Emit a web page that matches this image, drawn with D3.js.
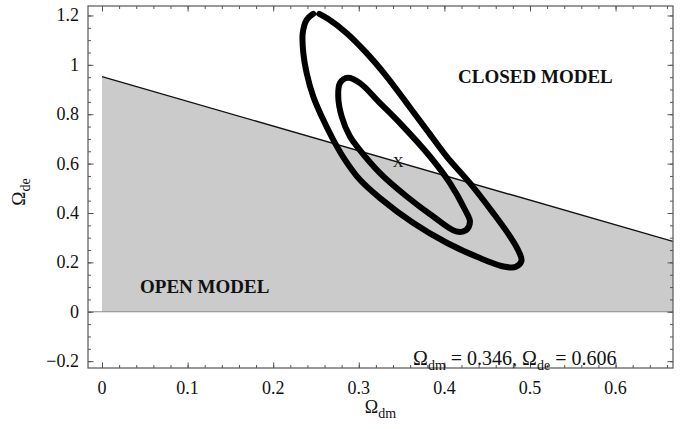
<!DOCTYPE html>
<html>
<head>
<meta charset="utf-8">
<script src="https://cdn.jsdelivr.net/npm/d3@7"></script>
<style>
  html, body { margin: 0; padding: 0; background: #fff; }
  svg { display: block; }
  text { font-family: "Liberation Serif", "Times New Roman", serif; fill: #111; }
</style>
</head>
<body>
<svg id="chart" width="686" height="429"></svg>
<script>
// ---- data -------------------------------------------------------------
const xTicks = [0, 0.1, 0.2, 0.3, 0.4, 0.5, 0.6];
const xTickLabels = ["0", "0.1", "0.2", "0.3", "0.4", "0.5", "0.6"];
const yTicks = [-0.2, 0, 0.2, 0.4, 0.6, 0.8, 1, 1.2];
const yTickLabels = ["\u22120.2", "0", "0.2", "0.4", "0.6", "0.8", "1", "1.2"];

// flat-universe boundary  Ω_dm + Ω_de ≈ 0.952
const boundaryDm = [0, 0.667];
const boundaryDe = [0.952, 0.285];

// best-fit point
const bestDm = 0.346;
const bestDe = 0.606;

// outer confidence contour (open at the top)
const outerDm = [0.2539, 0.2640, 0.2859, 0.3092, 0.3326, 0.3560, 0.3793, 0.4027, 0.4299, 0.4571,
                 0.4778, 0.4871, 0.4901, 0.4836, 0.4708, 0.4416, 0.4027, 0.3633, 0.3248, 0.3014,
                 0.2839, 0.2702, 0.2567, 0.2468, 0.2391, 0.2352, 0.2345, 0.2391, 0.2468];
const outerDe = [1.2065, 1.1862, 1.1283, 1.0474, 0.9526, 0.8449, 0.7368, 0.6287, 0.5211, 0.3996,
                 0.2996, 0.2429, 0.2065, 0.1822, 0.1822, 0.2174, 0.2794, 0.3603, 0.4603, 0.5344,
                 0.6154, 0.6964, 0.7907, 0.8717, 0.9664, 1.0474, 1.1283, 1.1822, 1.2065];

// inner confidence contour (closed)
const innerDm = [0.2874, 0.3014, 0.3248, 0.3481, 0.3832, 0.4065, 0.4241, 0.4299, 0.4252,
                 0.4136, 0.3870, 0.3560, 0.3248, 0.2994, 0.2897, 0.2800, 0.2760, 0.2780];
const innerDe = [0.9474, 0.9259, 0.8449, 0.7640, 0.6287, 0.5211, 0.4130, 0.3644, 0.3300,
                 0.3259, 0.3858, 0.4668, 0.5615, 0.6628, 0.7097, 0.7907, 0.8717, 0.9259];

// ---- layout -----------------------------------------------------------
const svg = d3.select("#chart");
const plot = { left: 88, right: 673, top: 6, bottom: 368 };

const x = d3.scaleLinear().domain([-0.01636, 0.6671]).range([plot.left, plot.right]);
const y = d3.scaleLinear().domain([-0.2277, 1.2383]).range([plot.bottom, plot.top]);

const clipId = "plotClip";
svg.append("clipPath").attr("id", clipId)
  .append("rect")
  .attr("x", plot.left).attr("y", plot.top)
  .attr("width", plot.right - plot.left).attr("height", plot.bottom - plot.top);

const g = svg.append("g").attr("clip-path", `url(#${clipId})`);

// open-model region (below the flat boundary, above zero)
const region = [
  [boundaryDm[0], 0],
  [boundaryDm[0], boundaryDe[0]],
  [boundaryDm[1], boundaryDe[1]],
  [boundaryDm[1], 0]
];
g.append("path")
  .attr("d", d3.line().x(d => x(d[0])).y(d => y(d[1]))(region) + "Z")
  .attr("fill", "#cbcbcb");

// zero line
g.append("line")
  .attr("x1", plot.left).attr("x2", plot.right)
  .attr("y1", y(0)).attr("y2", y(0))
  .attr("stroke", "#8a8a8a").attr("stroke-width", 1.2);

// boundary line
g.append("line")
  .attr("x1", x(boundaryDm[0])).attr("y1", y(boundaryDe[0]))
  .attr("x2", x(boundaryDm[1])).attr("y2", y(boundaryDe[1]))
  .attr("stroke", "#111").attr("stroke-width", 1.4);

// contours
const outerPts = outerDm.map((d, i) => [d, outerDe[i]]);
const innerPts = innerDm.map((d, i) => [d, innerDe[i]]);

g.append("path")
  .attr("d", d3.line().x(d => x(d[0])).y(d => y(d[1])).curve(d3.curveCatmullRom.alpha(0.5))(outerPts))
  .attr("fill", "none").attr("stroke", "#000").attr("stroke-width", 6)
  .attr("stroke-linecap", "round").attr("stroke-linejoin", "round");

g.append("path")
  .attr("d", d3.line().x(d => x(d[0])).y(d => y(d[1])).curve(d3.curveCatmullRomClosed.alpha(0.5))(innerPts))
  .attr("fill", "none").attr("stroke", "#000").attr("stroke-width", 6)
  .attr("stroke-linejoin", "round");

// best-fit marker
svg.append("text")
  .attr("x", x(bestDm)).attr("y", y(bestDe))
  .attr("text-anchor", "middle").attr("dominant-baseline", "central")
  .style("font-size", "15px")
  .text("X");

// region labels
svg.append("text")
  .attr("x", x(0.0444)).attr("y", y(0.075))
  .style("font-size", "19px").style("font-weight", "bold")
  .text("OPEN MODEL");
svg.append("text")
  .attr("x", x(0.416)).attr("y", y(0.926))
  .style("font-size", "19px").style("font-weight", "bold")
  .text("CLOSED MODEL");

// ---- frame and ticks ----------------------------------------------------
const frameColor = "#555";
const minorX = d3.range(0, 0.6671, 0.02).map(v => +v.toFixed(2));
const minorY = d3.range(-0.2, 1.2381, 0.05).map(v => +v.toFixed(2));

function tickAxis(axisFn, scale, values, size, transform) {
  const a = svg.append("g").attr("transform", transform)
    .call(axisFn(scale).tickValues(values).tickSize(size).tickFormat(""));
  a.select(".domain").remove();
  a.selectAll("line").attr("stroke", frameColor).attr("stroke-width", 1);
  return a;
}

// bottom / top (inward)
tickAxis(d3.axisBottom, x, minorX, -3, `translate(0,${plot.bottom})`);
tickAxis(d3.axisBottom, x, xTicks, -5.5, `translate(0,${plot.bottom})`);
tickAxis(d3.axisTop, x, minorX, -3, `translate(0,${plot.top})`);
tickAxis(d3.axisTop, x, xTicks, -5.5, `translate(0,${plot.top})`);
// left / right (inward)
tickAxis(d3.axisLeft, y, minorY, -3, `translate(${plot.left},0)`);
tickAxis(d3.axisLeft, y, yTicks, -5.5, `translate(${plot.left},0)`);
tickAxis(d3.axisRight, y, minorY, -3, `translate(${plot.right},0)`);
tickAxis(d3.axisRight, y, yTicks, -5.5, `translate(${plot.right},0)`);

svg.append("rect")
  .attr("x", plot.left).attr("y", plot.top)
  .attr("width", plot.right - plot.left).attr("height", plot.bottom - plot.top)
  .attr("fill", "none").attr("stroke", frameColor).attr("stroke-width", 1.2);

// tick labels
svg.append("g").selectAll("text")
  .data(xTicks)
  .join("text")
  .attr("x", d => x(d)).attr("y", 394)
  .attr("text-anchor", "middle")
  .style("font-size", "18px")
  .text((d, i) => xTickLabels[i]);

svg.append("g").selectAll("text")
  .data(yTicks)
  .join("text")
  .attr("x", 79).attr("y", d => y(d))
  .attr("text-anchor", "end").attr("dominant-baseline", "central")
  .style("font-size", "18px")
  .text((d, i) => yTickLabels[i]);

// axis titles
function omega(sel, sub) {
  sel.append("tspan").text("\u03A9");
  sel.append("tspan").attr("dy", 5).style("font-size", "14px").text(sub);
}
const xt = svg.append("text")
  .attr("x", (plot.left + plot.right) / 2).attr("y", 413)
  .attr("text-anchor", "middle").style("font-size", "18px");
omega(xt, "dm");

const yt = svg.append("text")
  .attr("transform", "translate(25,192) rotate(-90)")
  .attr("text-anchor", "middle").style("font-size", "19px");
omega(yt, "de");

// best-fit annotation
const ann = svg.append("text")
  .attr("x", 413).attr("y", 365)
  .style("font-size", "20px");
ann.append("tspan").text("\u03A9");
ann.append("tspan").attr("dy", 5).style("font-size", "14px").text("dm");
ann.append("tspan").attr("dy", -5).text(` = ${bestDm}, `);
ann.append("tspan").text("\u03A9");
ann.append("tspan").attr("dy", 5).style("font-size", "14px").text("de");
ann.append("tspan").attr("dy", -5).text(` = ${bestDe}`);
</script>
</body>
</html>
